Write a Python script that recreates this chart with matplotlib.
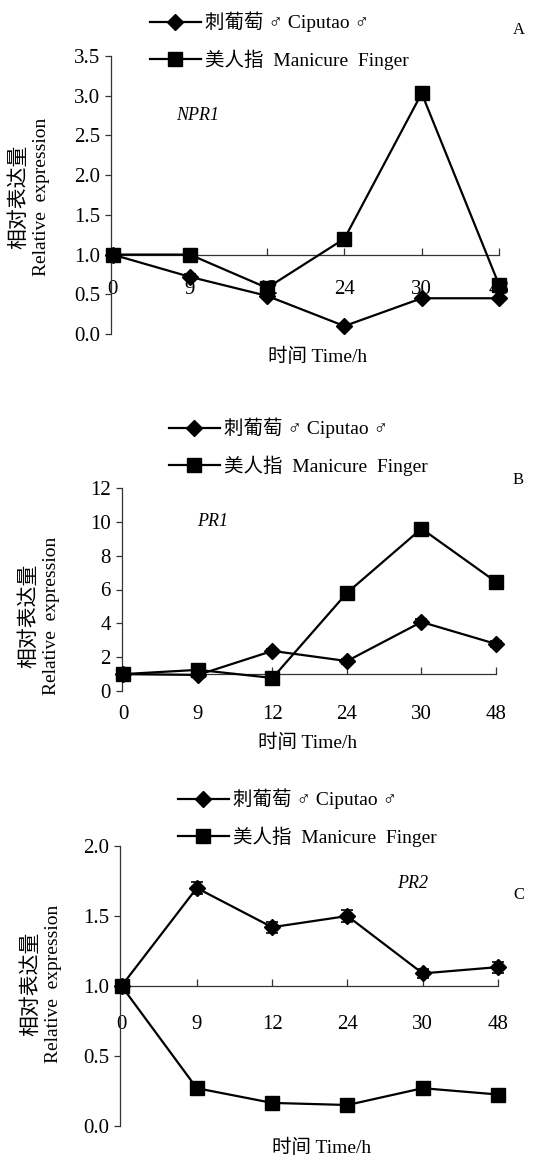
import matplotlib
matplotlib.use("Agg")
import matplotlib.pyplot as plt
import numpy as np

FONT = ['Liberation Serif', 'Noto Sans CJK SC', 'DejaVu Sans']
plt.rcParams['font.family'] = FONT

# Sampling times (h) shown as categories
hours = ['0', '9', '12', '24', '30', '48']

# NPR1
cip_npr1 = [1.0, 0.72, 0.48, 0.10, 0.45, 0.45]
cip_npr1_err = [0.02, 0.03, 0.03, 0.02, 0.02, 0.02]
man_npr1 = [1.0, 1.0, 0.58, 1.20, 3.03, 0.62]
man_npr1_err = [0.02, 0.02, 0.03, 0.05, 0.07, 0.05]

# PR1
cip_pr1 = [1.0, 0.95, 2.37, 1.77, 4.08, 2.78]
cip_pr1_err = [0.05, 0.05, 0.10, 0.15, 0.15, 0.15]
man_pr1 = [1.0, 1.25, 0.77, 5.80, 9.60, 6.45]
man_pr1_err = [0.05, 0.10, 0.10, 0.30, 0.30, 0.25]

# PR2
cip_pr2 = [1.0, 1.70, 1.42, 1.50, 1.09, 1.135]
cip_pr2_err = [0.02, 0.04, 0.04, 0.04, 0.03, 0.04]
man_pr2 = [1.0, 0.27, 0.165, 0.15, 0.27, 0.225]
man_pr2_err = [0.01, 0.01, 0.01, 0.01, 0.01, 0.01]

cip_label = '刺葡萄 ♂ Ciputao ♂'
man_label = '美人指  Manicure  Finger'

W, H = 558, 1160
fig = plt.figure(figsize=(W / 100, H / 100), dpi=100)


def fx(px):
    return px / W


def fy(py):
    return 1 - py / H


def panel(rect, cip, cip_err, man, man_err, ylim, yticks, yfmt, xpad, gene,
          gene_xy, letter_xy, letter, legend_xy, xlabel_xy, ylab_x, ylab_y):
    ax = fig.add_axes(rect)
    x = np.arange(len(hours))
    # error bars first, then the lines with markers on top
    for vals, errs in ((cip, cip_err), (man, man_err)):
        ax.errorbar(x, vals, yerr=errs, fmt='none', ecolor='black',
                    capsize=4, elinewidth=1.2, capthick=1.2, zorder=2,
                    clip_on=False)
    l1, = ax.plot(x, cip, color='black', lw=1.6, marker='D', ms=8,
                  label=cip_label, zorder=3, clip_on=False)
    l2, = ax.plot(x, man, color='black', lw=1.6, marker='s', ms=10,
                  label=man_label, zorder=3, clip_on=False)
    ax.set_xlim(-0.02, 5)
    ax.set_ylim(*ylim)
    ax.set_yticks(yticks)
    ax.set_yticklabels([yfmt.format(v) for v in yticks])
    ax.set_xticks(x)
    ax.set_xticklabels(hours)
    ax.spines['top'].set_visible(False)
    ax.spines['right'].set_visible(False)
    ax.spines['bottom'].set_position(('data', 1.0))
    for s in ('left', 'bottom'):
        ax.spines[s].set_linewidth(0.9)
        ax.spines[s].set_color('#333333')
    ax.tick_params(axis='y', direction='out', length=4, width=0.9, pad=4,
                   labelsize=15, color='#333333')
    ax.tick_params(axis='x', direction='in', length=5, width=0.9, pad=xpad,
                   labelsize=15, color='#333333')
    fig.text(fx(gene_xy[0]), fy(gene_xy[1]), gene, fontsize=13,
             style='italic', ha='left', va='center')
    fig.text(fx(letter_xy[0]), fy(letter_xy[1]), letter, fontsize=12,
             ha='left', va='center')
    fig.text(fx(xlabel_xy[0]), fy(xlabel_xy[1]), '时间 Time/h', fontsize=14,
             ha='center', va='center')
    fig.text(fx(ylab_x[0]), fy(ylab_y), '相对表达量', fontsize=15, rotation=90,
             ha='center', va='center')
    fig.text(fx(ylab_x[1]), fy(ylab_y), 'Relative  expression', fontsize=14,
             rotation=90, ha='center', va='center')
    fig.legend([l1, l2], [cip_label, man_label], loc='center left',
               bbox_to_anchor=(fx(legend_xy[0]), fy(legend_xy[1])),
               frameon=False, fontsize=14, handlelength=2.6, handletextpad=0.25,
               labelspacing=0.9, borderpad=0, borderaxespad=0)
    return ax


panel([fx(111), fy(334), fx(499 - 111), (334 - 56) / H],
      cip_npr1, cip_npr1_err, man_npr1, man_npr1_err,
      (0, 3.5), [0, 0.5, 1.0, 1.5, 2.0, 2.5, 3.0, 3.5], '{:.1f}', 18.5,
      'NPR1', (176, 115), (513, 30), 'A', (150, 41), (318, 357),
      (19, 42), 197)

panel([fx(122), fy(691), fx(496 - 122), (691 - 488) / H],
      cip_pr1, cip_pr1_err, man_pr1, man_pr1_err,
      (0, 12), [0, 2, 4, 6, 8, 10, 12], '{:.0f}', 22,
      'PR1', (197, 522), (513, 480), 'B', (169, 447), (308, 743),
      (29, 52), 616)

panel([fx(120), fy(1126), fx(498 - 120), (1126 - 846) / H],
      cip_pr2, cip_pr2_err, man_pr2, man_pr2_err,
      (0, 2.0), [0, 0.5, 1.0, 1.5, 2.0], '{:.1f}', 21,
      'PR2', (397, 884), (513, 895), 'C', (178, 818), (322, 1148),
      (31, 54), 984)

fig.savefig('out.png', dpi=100)
